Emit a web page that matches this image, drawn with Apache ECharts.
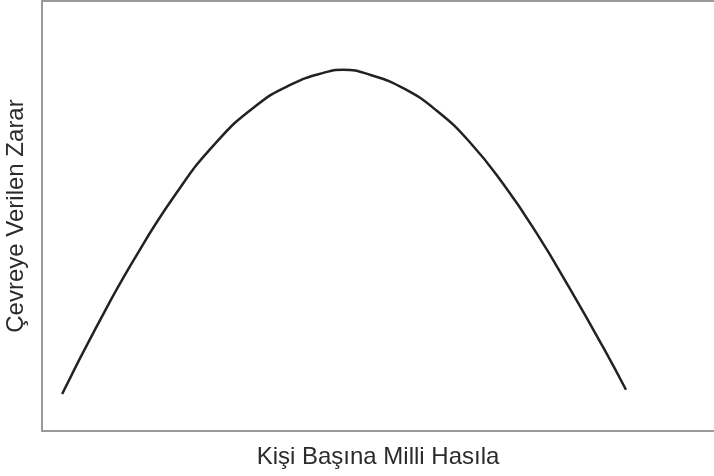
<!DOCTYPE html>
<html>
<head>
<meta charset="utf-8">
<style>
  html, body { margin: 0; padding: 0; background: #fff; }
  #chart { width: 714px; height: 476px; }
</style>
<script src="https://cdn.jsdelivr.net/npm/echarts@6/dist/echarts.min.js"></script>
</head>
<body>
<div id="chart"></div>
<script>
// gelir düzeyi (göreli birim) ve çevreye verilen zarar (göreli birim)
const income = [3.0, 8.1, 13.7, 19.9, 25.8, 31.8, 37.1, 42.1, 44.8, 48.9, 53.9, 58.8, 63.7, 68.7, 73.6, 78.4, 83.5, 86.9]
const damage = [8.6, 24.2, 39.9, 55.1, 66.9, 75.6, 80.6, 83.4, 84.0, 82.8, 79.6, 74.4, 67.1, 57.3, 46.0, 33.5, 19.5, 9.6]
const xName = 'Kişi Başına Milli Hasıla'
const yName = 'Çevreye Verilen Zarar'

const frame = { show: true, lineStyle: { color: '#9a9a9a', width: 2 } }
const font = 'Liberation Sans, Arial, sans-serif'

const chart = echarts.init(document.getElementById('chart'))
chart.setOption({
  backgroundColor: '#fff',
  animation: false,
  grid: {
    left: 42,
    right: 0,
    top: 1,
    bottom: 45,
    outerBoundsMode: 'none'
  },
  xAxis: [
    {
      type: 'value',
      min: 0,
      max: 100,
      name: xName,
      nameLocation: 'middle',
      nameGap: 14,
      nameTextStyle: { fontFamily: font, fontSize: 24, color: '#2b2b2b' },
      axisLine: frame,
      axisTick: { show: false },
      axisLabel: { show: false },
      splitLine: { show: false }
    },
    {
      // üst kenar çizgisi
      type: 'value',
      position: 'top',
      min: 0,
      max: 100,
      axisLine: frame,
      axisTick: { show: false },
      axisLabel: { show: false },
      splitLine: { show: false }
    }
  ],
  yAxis: {
    type: 'value',
    min: 0,
    max: 100,
    name: yName,
    nameLocation: 'middle',
    nameGap: 14,
    nameTextStyle: { fontFamily: font, fontSize: 24, color: '#2b2b2b' },
    axisLine: frame,
    axisTick: { show: false },
    axisLabel: { show: false },
    splitLine: { show: false }
  },
  series: [
    {
      type: 'line',
      data: income.map((x, i) => [x, damage[i]]),
      smooth: 0.5,
      symbol: 'none',
      lineStyle: { color: '#222', width: 2.5 }
    }
  ]
})
window.addEventListener('resize', () => { chart.resize() })
</script>
</body>
</html>
